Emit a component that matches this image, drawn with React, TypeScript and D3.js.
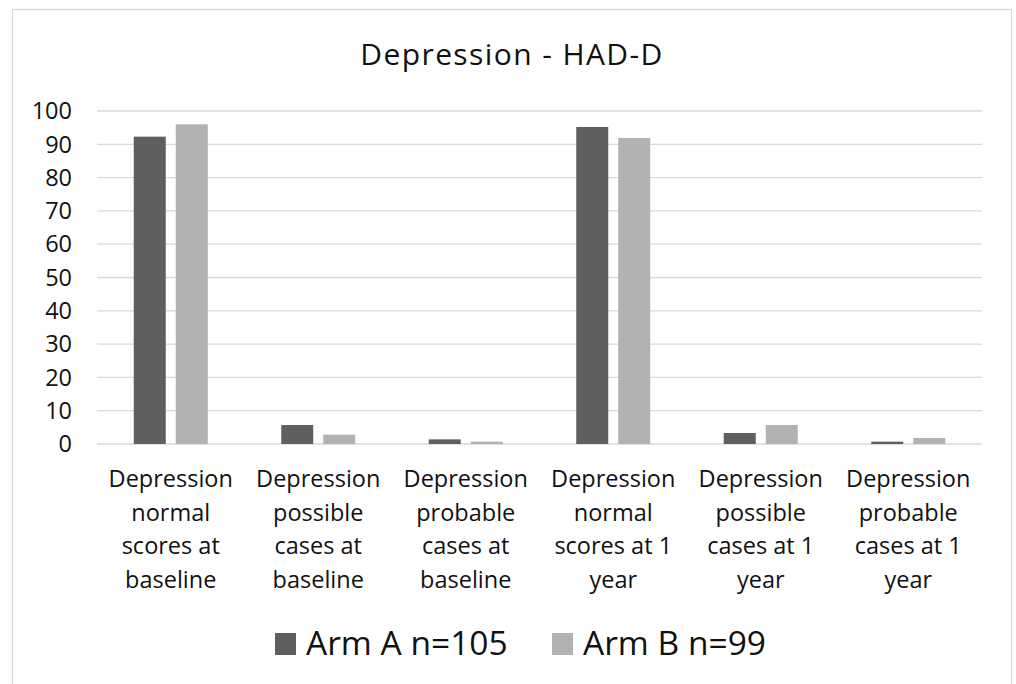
import React from "react";
import * as d3 from "d3";

// chart data (percent of each arm)
const categories = [
  ["Depression", "normal", "scores at", "baseline"],
  ["Depression", "possible", "cases at", "baseline"],
  ["Depression", "probable", "cases at", "baseline"],
  ["Depression", "normal", "scores at 1", "year"],
  ["Depression", "possible", "cases at 1", "year"],
  ["Depression", "probable", "cases at 1", "year"],
];
const seriesNames = ["Arm A n=105", "Arm B n=99"];
const armA = [92.3, 5.7, 1.4, 95.2, 3.3, 0.7];
const armB = [96.0, 2.8, 0.7, 91.9, 5.7, 1.8];
const yTicks = [0, 10, 20, 30, 40, 50, 60, 70, 80, 90, 100];
const colors = ["#5f5f5f", "#b2b2b2"];

const W = 1016;
const H = 684;
const FONT = "'Open Sans', sans-serif";

export default function App() {
  const catKeys = categories.map((c, i) => String(i));
  const x = d3.scaleBand().domain(catKeys).range([97, 982]).padding(0);
  const x1 = d3.scaleBand().domain(seriesNames).range([-37, 37]).paddingInner(0.238);
  const y = d3.scaleLinear().domain([0, 100]).range([444, 111]);
  const values = [armA, armB];

  return (
    <svg
      width={W}
      height={H}
      style={{ position: "absolute", left: 0, top: 0, background: "#fff" }}
      fontFamily={FONT}
    >
      <rect x={12.5} y={9.5} width={999} height={720} fill="#fff" stroke="#d9d9d9" strokeWidth={1.3} />

      <text x={512} y={65} textAnchor="middle" fontSize={30} letterSpacing={1.4} fill="#111">
        Depression - HAD-D
      </text>

      {/* gridlines + y labels */}
      {yTicks.map((t) => (
        <g key={t}>
          <line x1={x.range()[0]} x2={x.range()[1]} y1={y(t)} y2={y(t)} stroke="#d9d9d9" strokeWidth={1.3} />
          <text x={72} y={y(t)} dy="0.35em" textAnchor="end" fontSize={23.5} fill="#111">
            {t}
          </text>
        </g>
      ))}

      {/* bars */}
      {seriesNames.map((s, si) => (
        <g key={s} fill={colors[si]}>
          {values[si].map((v, i) => (
            <rect
              key={i}
              x={x(String(i))! + x.bandwidth() / 2 + x1(s)!}
              y={y(v)}
              width={x1.bandwidth()}
              height={y(0) - y(v)}
            />
          ))}
        </g>
      ))}

      {/* category labels */}
      {categories.map((lines, i) => (
        <text key={i} x={x(String(i))! + x.bandwidth() / 2} y={487} textAnchor="middle" fontSize={23.5} fill="#111">
          {lines.map((ln, j) => (
            <tspan key={j} x={x(String(i))! + x.bandwidth() / 2} y={487 + j * 33.5}>
              {ln}
            </tspan>
          ))}
        </text>
      ))}

      {/* legend */}
      {seriesNames.map((s, si) => {
        const lx = [275, 552][si];
        return (
          <g key={s}>
            <rect x={lx} y={633} width={21} height={22} fill={colors[si]} />
            <text x={lx + 31} y={655} fontSize={33.5} fill="#111">
              {s}
            </text>
          </g>
        );
      })}
    </svg>
  );
}
